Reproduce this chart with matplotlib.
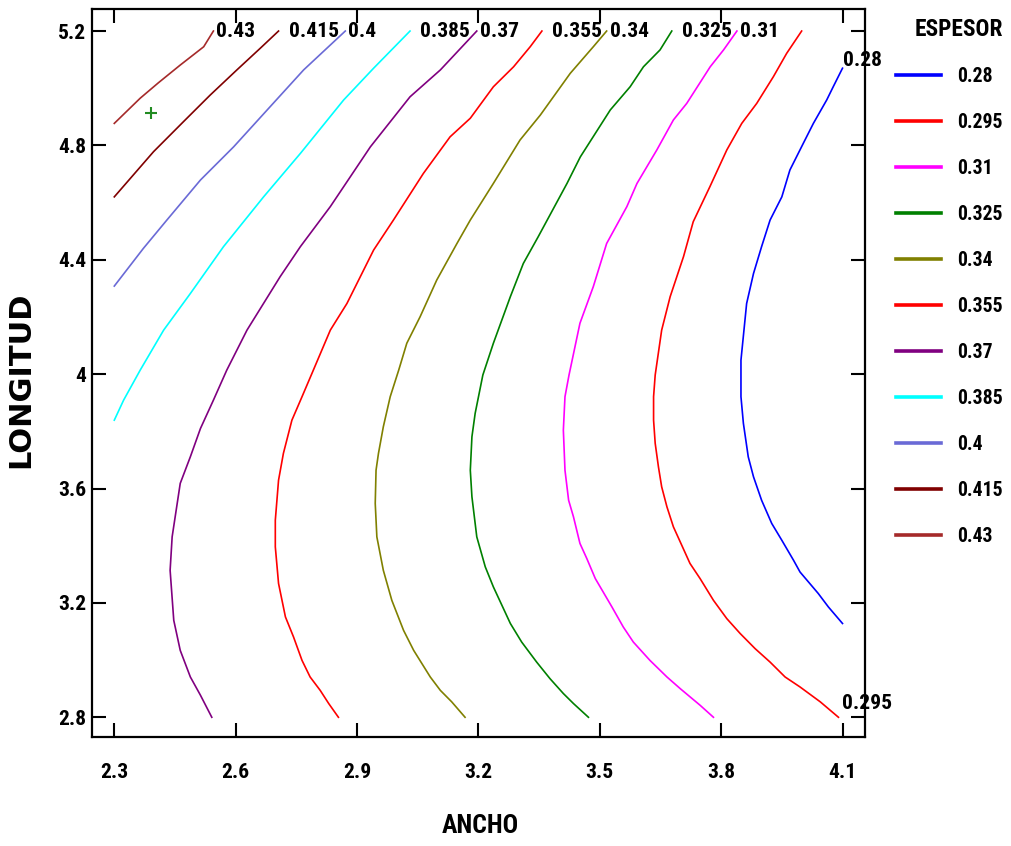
import matplotlib
matplotlib.use("Agg")
import matplotlib.pyplot as plt
from matplotlib import font_manager as fm
from matplotlib.lines import Line2D

# ---------------- data ----------------
levels = [0.28, 0.295, 0.31, 0.325, 0.34, 0.355, 0.37, 0.385, 0.4, 0.415, 0.43]
level_labels = ["0.28", "0.295", "0.31", "0.325", "0.34", "0.355",
                "0.37", "0.385", "0.4", "0.415", "0.43"]
x_ticks = [2.3, 2.6, 2.9, 3.2, 3.5, 3.8, 4.1]
x_tick_labels = ["2.3", "2.6", "2.9", "3.2", "3.5", "3.8", "4.1"]
y_ticks = [2.8, 3.2, 3.6, 4.0, 4.4, 4.8, 5.2]
y_tick_labels = ["2.8", "3.2", "3.6", "4", "4.4", "4.8", "5.2"]

ancho_028 = [4.100, 4.065, 4.040, 4.019, 3.995, 3.979, 3.950, 3.925, 3.900, 3.880, 3.867, 3.855,
             3.849, 3.849, 3.863, 3.880, 3.900, 3.921, 3.950, 3.970, 4.003, 4.028, 4.061, 4.077, 4.100]
long_028 = [3.128, 3.186, 3.233, 3.268, 3.308, 3.349, 3.419, 3.478, 3.559, 3.641, 3.711, 3.828,
            3.921, 4.049, 4.247, 4.352, 4.446, 4.539, 4.620, 4.714, 4.807, 4.877, 4.959, 5.005, 5.070]

ancho_0295 = [4.090, 4.045, 3.995, 3.958, 3.921, 3.884, 3.847, 3.814, 3.781, 3.748, 3.723, 3.699,
              3.682, 3.666, 3.653, 3.645, 3.637, 3.633, 3.633, 3.637, 3.653, 3.674, 3.707, 3.731,
              3.772, 3.814, 3.851, 3.888, 3.929, 3.962, 3.999]
long_0295 = [2.800, 2.854, 2.906, 2.941, 2.993, 3.040, 3.093, 3.145, 3.209, 3.285, 3.338, 3.413,
             3.466, 3.536, 3.606, 3.676, 3.758, 3.839, 3.921, 3.997, 4.154, 4.271, 4.411, 4.533,
             4.655, 4.784, 4.877, 4.947, 5.040, 5.122, 5.200]

ancho_031 = [3.781, 3.748, 3.699, 3.666, 3.624, 3.583, 3.558, 3.530, 3.489, 3.468, 3.451, 3.435,
             3.423, 3.414, 3.410, 3.414, 3.424, 3.451, 3.484, 3.517, 3.567, 3.592, 3.641, 3.682,
             3.715, 3.773, 3.806, 3.839]
long_031 = [2.800, 2.842, 2.900, 2.941, 2.999, 3.063, 3.116, 3.186, 3.285, 3.355, 3.408, 3.501,
            3.559, 3.664, 3.804, 3.921, 3.997, 4.178, 4.306, 4.457, 4.586, 4.667, 4.784, 4.889,
            4.947, 5.075, 5.134, 5.200]

ancho_0325 = [3.472, 3.435, 3.410, 3.377, 3.344, 3.307, 3.279, 3.258, 3.237, 3.217, 3.196, 3.184,
              3.180, 3.184, 3.192, 3.211, 3.237, 3.279, 3.311, 3.348, 3.419, 3.452, 3.526, 3.575,
              3.608, 3.649, 3.678]
long_0325 = [2.800, 2.848, 2.883, 2.935, 2.993, 3.063, 3.128, 3.192, 3.256, 3.326, 3.431, 3.571,
             3.664, 3.781, 3.863, 3.997, 4.108, 4.271, 4.387, 4.481, 4.667, 4.760, 4.924, 5.005,
             5.075, 5.134, 5.200]

ancho_034 = [3.167, 3.134, 3.106, 3.081, 3.040, 3.015, 2.986, 2.965, 2.949, 2.945, 2.947, 2.953,
             2.965, 2.982, 3.003, 3.023, 3.056, 3.097, 3.147, 3.180, 3.237, 3.303, 3.353, 3.427,
             3.484, 3.517]
long_034 = [2.800, 2.854, 2.894, 2.941, 3.034, 3.104, 3.209, 3.314, 3.431, 3.548, 3.664, 3.723,
            3.816, 3.921, 4.014, 4.108, 4.201, 4.329, 4.457, 4.539, 4.667, 4.819, 4.906, 5.052,
            5.145, 5.200]

ancho_0355 = [2.854, 2.830, 2.809, 2.784, 2.764, 2.743, 2.723, 2.706, 2.698, 2.698, 2.706, 2.718,
              2.739, 2.764, 2.792, 2.834, 2.875, 2.941, 2.990, 3.064, 3.130, 3.180, 3.237, 3.287,
              3.328, 3.357]
long_0355 = [2.800, 2.848, 2.894, 2.941, 2.999, 3.081, 3.151, 3.268, 3.396, 3.489, 3.629, 3.723,
             3.839, 3.921, 4.014, 4.154, 4.247, 4.434, 4.539, 4.702, 4.830, 4.895, 5.005, 5.075,
             5.145, 5.200]

ancho_037 = [2.541, 2.513, 2.488, 2.463, 2.447, 2.438, 2.443, 2.463, 2.488, 2.513, 2.545, 2.578,
             2.628, 2.710, 2.760, 2.834, 2.933, 3.031, 3.106, 3.196]
long_037 = [2.800, 2.877, 2.941, 3.034, 3.139, 3.314, 3.431, 3.618, 3.711, 3.810, 3.909, 4.014,
            4.154, 4.341, 4.446, 4.586, 4.795, 4.970, 5.064, 5.200]

ancho_0385 = [2.300, 2.323, 2.364, 2.422, 2.488, 2.570, 2.669, 2.760, 2.867, 2.941, 3.031]
long_0385 = [3.839, 3.909, 4.014, 4.154, 4.282, 4.446, 4.620, 4.772, 4.959, 5.070, 5.200]

ancho_04 = [2.300, 2.372, 2.430, 2.513, 2.595, 2.685, 2.768, 2.871]
long_04 = [4.308, 4.440, 4.539, 4.679, 4.795, 4.935, 5.064, 5.200]

ancho_0415 = [2.300, 2.397, 2.471, 2.537, 2.603, 2.661, 2.706]
long_0415 = [4.620, 4.778, 4.883, 4.976, 5.064, 5.140, 5.200]

ancho_043 = [2.300, 2.364, 2.409, 2.463, 2.521, 2.545]
long_043 = [4.877, 4.965, 5.019, 5.081, 5.145, 5.200]

point_ancho = [2.391]
point_long = [4.913]

curves = [(ancho_028, long_028), (ancho_0295, long_0295), (ancho_031, long_031),
          (ancho_0325, long_0325), (ancho_034, long_034), (ancho_0355, long_0355),
          (ancho_037, long_037), (ancho_0385, long_0385), (ancho_04, long_04),
          (ancho_0415, long_0415), (ancho_043, long_043)]

colors = ["#0000FF", "#FF0000", "#FF00FF", "#008000", "#808000", "#FF0000",
          "#800080", "#00FFFF", "#6A6AD6", "#800000", "#A52A2A"]

# ---------------- fonts: prefer a condensed bold face ----------------
def _weight(f):
    w = f.weight
    if isinstance(w, str):
        return {"bold": 700, "heavy": 800, "black": 900, "semibold": 600,
                "demibold": 600, "extra bold": 800, "ultrabold": 800}.get(w.lower(), 400)
    return int(w)

cands = []
for f in fm.fontManager.ttflist:
    nm = f.name.lower()
    st = str(f.stretch).lower()
    condensed = ("narrow" in nm or "condensed" in nm or "condensed" in st)
    if condensed and _weight(f) >= 600 and f.style == "normal":
        cands.append(f)
prio = ["liberation", "roboto", "open sans", "noto sans", "dejavu"]
cands.sort(key=lambda f: next((i for i, p in enumerate(prio) if f.name.lower().startswith(p)), 99))
if cands:
    base = dict(fname=cands[0].fname)
else:
    base = dict(family="Liberation Sans", weight="bold")

W, H = 1011, 846
fig = plt.figure(figsize=(W / 100, H / 100), dpi=100)

# choose sizes so that the labels get the reference's widths
probe = fig.text(0, 0, "0.415", fontproperties=fm.FontProperties(size=10, **base))
fig.canvas.draw()
pw = probe.get_window_extent().width
probe.remove()
fs_leg = min(19.0, 10.0 * 46.0 / pw)
fs = min(20.0, 10.0 * 50.0 / pw)

def fp(size=None):
    return fm.FontProperties(size=size or fs, **base)

ax = fig.add_axes([92 / W, 1 - 737 / H, (865 - 92) / W, (737 - 9.3) / H])
ax.set_xlim(2.2449, 4.1556)
ax.set_ylim(2.731, 5.276)

handles = []
for (xs, ys), c, lab in zip(curves, colors, level_labels):
    ax.plot(xs, ys, color=c, lw=1.2, solid_joinstyle="round")
    handles.append(Line2D([0], [0], color=c, lw=2.6, label=lab))

ax.plot(point_ancho, point_long, marker="+", color="#228B22", ms=8, mew=1.5, ls="none")

# contour labels
for (xs, ys), lab in zip(curves, level_labels):
    if lab == "0.28":
        xy, off = (xs[-1], ys[-1]), (0, 8)
    elif lab == "0.295":
        xy, off = (xs[0], ys[0]), (4, 14)
    else:
        xy, off = (xs[-1], ys[-1]), (10 if len(lab) == 5 else 3, 0)
    ax.annotate(lab, xy=xy, xytext=off, textcoords="offset pixels", ha="left",
                va="center", fontproperties=fp(), annotation_clip=False)

ax.set_xticks(x_ticks)
ax.set_xticklabels(x_tick_labels)
ax.set_yticks(y_ticks)
ax.set_yticklabels(y_tick_labels)
ax.tick_params(direction="in", length=10, width=1.5, top=True, right=True)
ax.tick_params(axis="x", pad=18.5)
ax.tick_params(axis="y", pad=4)
for t in ax.get_xticklabels() + ax.get_yticklabels():
    t.set_fontproperties(fp())
for s in ax.spines.values():
    s.set_linewidth(1.6)

fig.text(480 / W, 1 - 826 / H, "ANCHO", ha="center", va="center", fontproperties=fp(fs * 1.2))
fig.text(21 / W, 1 - 380 / H, "LONGITUD", ha="center", va="center", rotation=90,
         family="DejaVu Sans", weight="bold", fontsize=22)
fig.text(959 / W, 1 - 30 / H, "ESPESOR", ha="center", va="center",
         fontproperties=fp(fs_leg * 1.18))

leg = fig.legend(handles=handles, loc="upper left", bbox_to_anchor=(896 / W, 1 - 67 / H),
                 frameon=False, borderpad=0, borderaxespad=0, handlelength=2.3,
                 handletextpad=0.8, labelspacing=1.37, prop=fp(fs_leg))

fig.savefig("out.png", dpi=100)
